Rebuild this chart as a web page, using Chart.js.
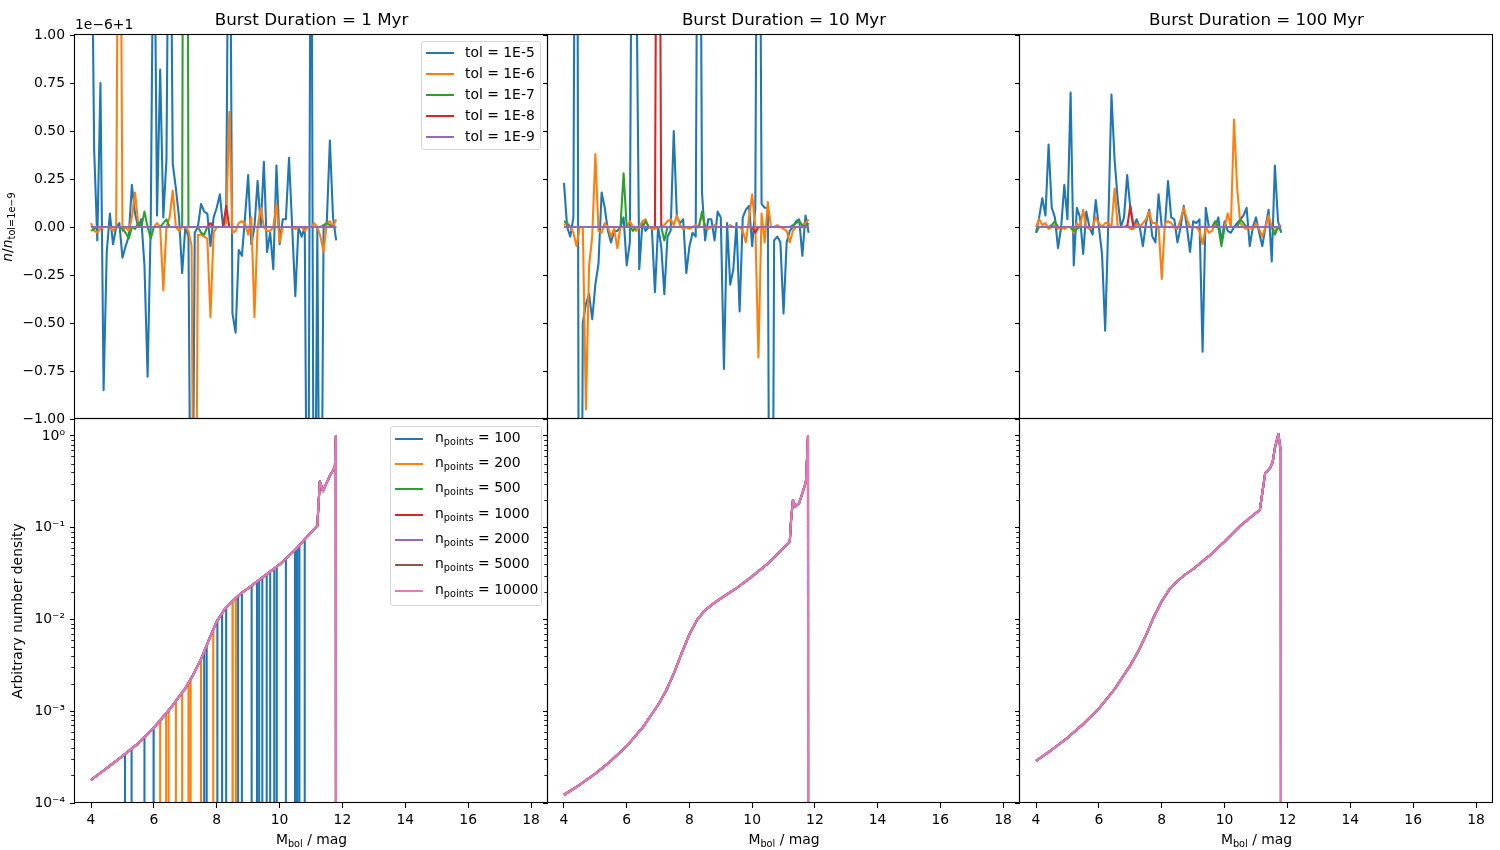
<!DOCTYPE html>
<html><head><meta charset="utf-8"><title>Burst duration convergence</title>
<script src="https://cdn.jsdelivr.net/npm/chart.js@4.4.1/dist/chart.umd.min.js"></script>
<style>
html,body{margin:0;padding:0;background:#fff}
body{width:1500px;height:850px;position:relative;overflow:hidden;font-family:"DejaVu Sans",sans-serif;color:#000}
canvas{position:absolute}
.t{position:absolute;white-space:nowrap;line-height:1}
.title{font-size:16.7px;transform:translateX(-50%)}
.lbl{font-size:13.9px}
.rot{transform:translate(-50%,-50%) rotate(-90deg)}
.ctr{transform:translateX(-50%)}
sub{font-size:70%;vertical-align:-0.3em;line-height:0}
.legend{position:absolute;background:rgba(255,255,255,0.8);border:1px solid #d4d4d4;border-radius:3px;box-sizing:border-box}
.legend .sw{position:absolute;left:4px;width:28px;height:2px}
.legend .tx{position:absolute;font-size:13.9px;line-height:1;white-space:nowrap}
</style></head><body>
<script>
// ---------------- data ----------------
const X_MBOL = [4.0,4.1,4.2,4.3,4.4,4.5,4.6,4.7,4.8,4.9,
 5.0,5.1,5.2,5.3,5.4,5.5,5.6,5.7,5.8,5.9,
 6.0,6.1,6.2,6.3,6.4,6.5,6.6,6.7,6.8,6.9,
 7.0,7.1,7.2,7.3,7.4,7.5,7.6,7.7,7.8,7.9,
 8.0,8.1,8.2,8.3,8.4,8.5,8.6,8.7,8.8,8.9,
 9.0,9.1,9.2,9.3,9.4,9.5,9.6,9.7,9.8,9.9,
 10.0,10.1,10.2,10.3,10.4,10.5,10.6,10.7,10.8,10.9,
 11.0,11.1,11.2,11.3,11.4,11.5,11.6,11.7,11.8];

const TOL_LABELS = ['tol = 1E-5','tol = 1E-6','tol = 1E-7','tol = 1E-8','tol = 1E-9'];
const TITLES = ['Burst Duration = 1 Myr','Burst Duration = 10 Myr','Burst Duration = 100 Myr'];
const N_POINTS = [100,200,500,1000,2000,5000,10000];

// (n/n_ref - 1) in units of 1e-6, burst 1 Myr
const B1_TOL5 = [2.0,0.4,-0.07,0.75,-0.85,-0.13,0.07,-0.09,0.0,0.02,
 -0.16,-0.1,-0.05,0.22,0.07,0.0,0.04,-0.2,-0.78,0.02,
 2.0,0.06,0.82,0.05,0.35,2.5,0.33,0.2,0.05,-0.24,
 0.0,-0.05,-2.5,-0.03,0.0,0.12,0.08,0.07,-0.1,0.05,
 0.1,0.17,0.0,0.05,2.5,-0.45,-0.55,-0.12,-0.15,0.05,
 0.27,-0.09,0.0,0.24,0.0,0.34,-0.13,-0.03,-0.22,0.32,
 -0.09,0.04,0.04,0.36,0.0,-0.36,0.0,-0.05,0.0,-2.5,
 2.5,-2.5,0.0,-2.5,0.0,0.02,0.45,0.05,-0.07];
const B1_TOL6 = [0.02,-0.02,-0.03,-0.01,0.0,0.0,0.0,-0.02,0.0,3.0,
 -0.02,0.0,-0.02,0.05,0.18,0.02,0.0,0.0,0.0,0.0,
 0.0,0.02,0.0,-0.33,0.0,0.05,0.19,0.0,-0.02,0.0,
 0.0,-0.02,-0.1,-3.0,-0.04,-0.04,-0.05,-0.06,-0.47,-0.03,
 0.0,0.0,0.0,0.02,0.6,-0.03,-0.02,0.02,0.03,0.02,
 -0.04,0.05,-0.47,0.0,0.1,0.0,-0.02,-0.02,0.0,0.12,
 -0.08,0.0,0.0,0.0,0.0,-0.01,0.0,0.0,-0.02,0.0,
 0.0,0.02,0.0,-0.05,-0.13,0.02,0.03,0.0,0.04];
const B1_TOL7 = [-0.02,-0.01,0,0,0,0,0,0,0,0,
 -0.01,-0.03,-0.06,0,-0.01,0.02,0,0.08,0,-0.06,
 0,0,0,0.02,0.04,0,0,0,0,0,
 7.0,0,0,0,0,-0.03,-0.04,0,0,0,
 0,0,0,0,0,0,0,0,0,0,
 0,0,0,0,0,0,0,0,0,0,
 0,0,0,0,0,0,0,0,0,0,
 0,0,0,0,0.01,0.02,0.01,0,0];
const B1_TOL8 = [0,0,0,0,0,0,0,0,0,0,
 0,0,0,0,0,0,0,0,0,0,
 0,0,0,0,0,0,0,0,0,0,
 0,0,0,0,0,0,0,0,0.02,0,
 0,0,0,0.11,0,0,0,0,0,0,
 0,0,0,0,0,0,0,0,0,0,
 0,0,0,0,0,0,0,0,0,0,
 0,0,0,0,0,0,0,0,0];

// burst 10 Myr
const B10_TOL5 = [0.23,0.0,-0.05,0.05,4.0,-4.0,-0.5,-0.4,-0.35,-0.48,
 -0.3,-0.19,0.18,0.1,-0.02,-0.08,-0.02,-0.02,0.0,0.05,
 -0.2,-0.08,3.0,1.5,-0.22,0.02,-0.02,0.0,0.0,-0.34,
 0.0,-0.1,-0.35,-0.05,-0.02,0.5,0.05,0.02,0.04,-0.24,
 -0.1,-0.03,-0.05,3.5,0.18,-0.07,0.04,0.04,-0.07,0.08,
 0.05,-0.74,0.02,-0.3,-0.22,0.02,-0.44,0.05,0.09,0.11,
 -0.1,0.1,3.5,0.12,0.1,0.1,-4.0,-0.07,-0.05,-0.08,
 -0.45,-0.08,-0.02,0.0,0.03,0.04,-0.15,0.06,-0.03];
const B10_TOL6 = [0.01,0.02,0.0,-0.03,-0.1,0.0,0.0,-0.95,-0.2,-0.05,
 0.38,-0.02,-0.03,0.02,0.0,-0.05,-0.01,-0.11,0.0,0.0,
 0.0,0.03,0.0,-0.02,0.0,0.03,0.04,0.0,-0.01,-0.01,
 0.0,0.0,0.01,0.03,0.04,0.01,0.06,0.01,-0.01,0.0,
 -0.01,0.0,0.01,0.0,0.07,0.0,-0.01,0.0,0.01,0.0,
 0.0,0.0,0.0,0.01,0.0,0.0,0.0,-0.02,-0.08,0.05,
 0.17,0.0,-0.68,0.07,-0.08,0.13,0.0,0.0,0.01,0.0,
 -0.01,-0.02,-0.08,-0.02,0.0,0.0,0.01,0.02,0.04];
const B10_TOL7 = [0.03,0.02,0,0,0,0,0,0,0,0,
 0,0,0,0,0,0,0,0,0,0.28,
 0,0,-0.02,0,0,0,0.03,0,0,0,
 0,0,-0.07,0,0,0,0,0,0,0,
 0,0,0,0,0.08,0,0,0,0,0,
 0,0,0,0,0,0,0,0,0,0,
 0,0,0,0,0,0,0,0,0,0,
 0,0,0,0.01,0.02,0.03,0.01,0,0.02];
const B10_TOL8 = [0,0,0,0,0,0,0,0,0,0,
 0,0,0,0,0,0,0,0,0,0,
 0,0,0,0,0,0,0,0,0,0,
 4.0,0,0,0,0,0,0,0,0,0,
 0,0,0,0,0,0,0,0,0,0,
 0,0,0,0,0,0,0,0,0,0,
 0,-0.03,0,0,0,0,0,0,0,0,
 0,0,0,0,0,0,0,0,0];

// burst 100 Myr
const B100_TOL5 = [-0.03,0.05,0.15,0.06,0.43,0.1,0.05,-0.11,0.0,0.22,
 0.04,0.70,-0.2,0.1,0.05,-0.14,0.08,0.0,-0.04,0.14,
 0.0,-0.14,-0.54,0.02,0.69,0.35,0.14,0.0,0.05,0.27,
 0.1,0.0,0.04,0.0,-0.1,0.02,0.09,-0.05,-0.08,0.17,
 0.0,0.0,0.24,0.05,0.04,-0.08,0.0,0.11,0.0,-0.13,
 0.03,0.02,0.04,-0.65,0.1,0.0,0.0,0.0,0.05,-0.08,
 0.03,-0.02,-0.03,0.0,0.02,0.04,0.06,0.1,-0.1,0.0,
 0.05,-0.03,-0.1,0.0,0.09,-0.18,0.32,0.03,-0.03];
const B100_TOL6 = [0.0,0.04,0.01,0.02,-0.01,0.0,0.01,-0.01,0.0,-0.01,
 0.0,0.0,-0.03,0.02,0.0,0.09,0.0,-0.01,0.0,0.05,
 0.02,0.0,0.02,0.02,0.0,0.2,0.0,0.0,0.0,0.01,
 -0.01,-0.01,0.02,0.0,0.02,0.04,0.08,0.02,0.02,0.0,
 -0.27,0.02,0.03,0.02,0.0,-0.01,0.04,0.1,0.04,0.0,
 0.0,0.0,-0.02,-0.09,0.0,-0.03,-0.02,0.02,0.0,0.0,
 0.0,0.07,0.0,0.56,0.2,0.02,0.0,-0.01,0.0,-0.01,
 0.02,-0.01,-0.05,0.0,0.06,0.0,-0.02,0.0,0.01];
const B100_TOL7 = [-0.03,0,0,0,0,0.01,0.03,0,0,0,
 0,0,-0.02,-0.01,0,0,0,0,0,0,
 0,0,0,0,0,0,0,0,0,0,
 0,0,0,0,0,0,0,0,0,0,
 0,0,0,0,0,0,0,0,0,0,
 0,0,0,0,0,0,0,0.03,0,-0.1,
 0,0,0,0,0,0.04,0.02,0,0,0,
 0,0,0,0,0,0,-0.04,0,-0.02];
const B100_TOL8 = [0,0,0,0,0,0,0,0,0,0,
 0,0,0,0,0,0,0,0,0,0,
 0,0,0,0,0,0,0,0,0,0,
 0.11,0,0,0,0,0,0,0,0,0,
 0,0,0,0,0,0,0,0,0,0,
 0,0,0,0,0,0,0,0,0,0,
 0,0,0,0,0,0,0,0,0,0,
 0,0,0,0,0,0,0,0,0];
// reference tolerance against itself: exactly zero offset
const REF_TOL9 = [0,0,0,0,0,0,0,0,0,0,
 0,0,0,0,0,0,0,0,0,0,
 0,0,0,0,0,0,0,0,0,0,
 0,0,0,0,0,0,0,0,0,0,
 0,0,0,0,0,0,0,0,0,0,
 0,0,0,0,0,0,0,0,0,0,
 0,0,0,0,0,0,0,0,0,0,
 0,0,0,0,0,0,0,0,0];

// luminosity functions (arbitrary number density); 0 = empty bin
const LF1_X = [4.0,4.5,5.0,5.5,6.0,6.5,7.0,7.25,7.5,7.75,8.0,8.25,8.5,8.75,9.0,9.5,10.0,10.5,11.0,11.2,11.28,11.38,11.5,11.6,11.7,11.76,11.79,11.8];
const LF1_Y = [1.78e-4,2.4e-4,3.24e-4,4.47e-4,6.6e-4,1.05e-3,1.78e-3,2.5e-3,3.7e-3,6.0e-3,9.5e-3,1.29e-2,1.58e-2,1.9e-2,2.19e-2,2.95e-2,3.98e-2,5.75e-2,8.9e-2,0.105,0.32,0.25,0.31,0.37,0.42,0.46,1.0,0];
const LF10_X = [4.0,4.5,5.0,5.5,6.0,6.5,7.0,7.25,7.5,7.75,8.0,8.25,8.5,8.75,9.0,9.5,10.0,10.5,11.0,11.2,11.24,11.3,11.38,11.5,11.67,11.72,11.78,11.79];
const LF10_Y = [1.23e-4,1.58e-4,2.09e-4,2.88e-4,4.17e-4,6.6e-4,1.17e-3,1.66e-3,2.57e-3,4.27e-3,6.9e-3,1.0e-2,1.26e-2,1.48e-2,1.7e-2,2.19e-2,2.95e-2,4.07e-2,6.0e-2,7.1e-2,0.12,0.2,0.17,0.186,0.28,0.33,1.0,0];
const LF100_X = [4.0,4.5,5.0,5.5,6.0,6.5,7.0,7.25,7.5,7.75,8.0,8.25,8.5,8.75,9.0,9.5,10.0,10.5,11.0,11.12,11.29,11.45,11.53,11.6,11.71,11.79,11.8];
const LF100_Y = [2.88e-4,3.8e-4,5.13e-4,7.24e-4,1.07e-3,1.74e-3,3.16e-3,4.47e-3,6.76e-3,1.07e-2,1.58e-2,2.14e-2,2.63e-2,3.09e-2,3.55e-2,4.9e-2,7.08e-2,0.105,0.145,0.155,0.39,0.45,0.52,0.74,1.05,0.68,0];
// empty bins of the coarse runs (burst 1 Myr): position and value of the neighbouring bin
const EMPTY100_X = [5.08,5.29,5.70,5.99,7.60,7.68,8.02,8.17,8.30,8.68,8.80,9.11,9.28,9.35,9.45,9.59,9.70,9.83,9.91,10.20,10.49,10.56,10.63,10.80];
const EMPTY100_TOP = [3.4e-4,3.9e-4,5.2e-4,6.6e-4,4.5e-3,5.25e-3,9.8e-3,1.17e-2,1.34e-2,1.81e-2,1.96e-2,2.34e-2,2.59e-2,2.7e-2,2.86e-2,3.11e-2,3.33e-2,3.6e-2,3.78e-2,4.61e-2,5.71e-2,6.07e-2,6.45e-2,7.48e-2];
const EMPTY200_X = [6.20,6.39,6.47,6.70,6.90,7.10,7.17,7.50,7.89,8.51,8.61];
const EMPTY200_TOP = [7.9e-4,9.46e-4,1.02e-3,1.3e-3,1.6e-3,2.04e-3,2.25e-3,3.7e-3,7.76e-3,1.6e-2,1.72e-2];

const X_TICKS = [4,6,8,10,12,14,16,18];
const TOP_Y_TICKS = [-1,-0.75,-0.5,-0.25,0,0.25,0.5,0.75,1];
const LOG_Y_TICKS = [1e-4,1e-3,1e-2,1e-1,1];

// ---------------- style / layout ----------------
const TOL_COLORS = ['#1f77b4','#ff7f0e','#2ca02c','#d62728','#9467bd'];
const N_COLORS = ['#1f77b4','#ff7f0e','#2ca02c','#d62728','#9467bd','#8c564b','#e377c2'];
const X_MIN = 3.49, X_MAX = 18.54;
const LOG_MAX = 1.53, LOG_FLOOR = 1e-12;
const COLS = [[75,548],[548,1020],[1020,1493]];
const ROWS = [[35,419],[419,803]];
const PAD = {l:80, r:10, t:30, b:45};

Chart.defaults.font.family = '"DejaVu Sans", sans-serif';
Chart.defaults.font.size = 13.9;
Chart.defaults.color = '#000';

const framePlugin = {
  id: 'frame',
  afterDatasetsDraw(chart, args, opts) {
    const {ctx, chartArea: a} = chart;
    ctx.save();
    ctx.strokeStyle = '#000';
    ctx.lineWidth = 1.1;
    ctx.strokeRect(Math.round(a.left) - 0.5, Math.round(a.top) - 0.5, Math.round(a.right - a.left), Math.round(a.bottom - a.top));
    if (opts && opts.minor) {
      const s = chart.scales.y;
      ctx.beginPath();
      for (let n = -4; n <= 0; n++) {
        for (let k = 2; k <= 9; k++) {
          const v = k * Math.pow(10, n);
          if (v > LOG_MAX) continue;
          const y = Math.round(s.getPixelForValue(v)) + 0.5;
          ctx.moveTo(a.left - 1, y);
          ctx.lineTo(a.left - 3.8, y);
        }
      }
      ctx.lineWidth = 0.85;
      ctx.stroke();
    }
    ctx.restore();
  }
};

const GRID = {display:true, drawOnChartArea:false, drawTicks:true, tickLength:5, tickColor:'#000', tickWidth:1.1};
const GRID_HIDDEN_TICKS = {display:true, drawOnChartArea:false, drawTicks:true, tickLength:5, tickColor:'rgba(0,0,0,0)', tickWidth:1.1};
const LINE = {borderWidth:2.08, pointRadius:0, fill:false, tension:0, clip:0, borderJoinStyle:'round', borderCapStyle:'butt'};

function xScale(show) {
  return {type:'linear', min:X_MIN, max:X_MAX,
    afterFit(s){ s.height = PAD.b; },
    afterBuildTicks(s){ s.ticks = X_TICKS.map(v => ({value:v})); },
    ticks:{display:show, autoSkip:false, maxRotation:0, padding:4, callback:v => String(v)},
    grid:show ? GRID : GRID_HIDDEN_TICKS, border:{display:false}};
}
function tolY(show) {
  return {type:'linear', min:-1, max:1,
    afterFit(s){ s.width = PAD.l; },
    afterBuildTicks(s){ s.ticks = TOP_Y_TICKS.map(v => ({value:v})); },
    ticks:{display:show, padding:5, callback:v => (v < 0 ? '\u2212' : '') + Math.abs(v).toFixed(2)},
    grid:GRID, border:{display:false}};
}
const SUP = {'-':'\u207B','0':'\u2070','1':'\u00B9','2':'\u00B2','3':'\u00B3','4':'\u2074'};
function logY(show) {
  return {type:'logarithmic', min:1e-4, max:LOG_MAX,
    afterFit(s){ s.width = PAD.l; },
    afterBuildTicks(s){ s.ticks = LOG_Y_TICKS.map(v => ({value:v})); },
    ticks:{display:show, padding:5, callback:v => '10' + String(Math.round(Math.log10(v))).split('').map(ch => SUP[ch]).join('')},
    grid:GRID, border:{display:false}};
}

function makeCanvas(c, r) {
  const [x0, x1] = COLS[c], [y0, y1] = ROWS[r];
  const cv = document.createElement('canvas');
  const w = x1 - x0 + PAD.l + PAD.r, h = y1 - y0 + PAD.t + PAD.b;
  cv.width = w; cv.height = h;
  cv.style.left = (x0 - PAD.l) + 'px'; cv.style.top = (y0 - PAD.t) + 'px';
  cv.style.width = w + 'px'; cv.style.height = h + 'px';
  document.body.appendChild(cv);
  return cv;
}

function buildPanel(c, r, datasets, isLog, showY, showX) {
  const cv = makeCanvas(c, r);
  new Chart(cv.getContext('2d'), {
    type:'line',
    data:{datasets},
    options:{
      responsive:false, maintainAspectRatio:false, animation:false, devicePixelRatio:1, events:[],
      layout:{padding:{left:0, top:PAD.t, right:PAD.r, bottom:0}},
      plugins:{legend:{display:false}, tooltip:{enabled:false}, title:{display:false}, frame:{minor:isLog}},
      scales:{x:xScale(showX), y:isLog ? logY(showY) : tolY(showY)}
    },
    plugins:[framePlugin]
  });
}

function tolDatasets(series) {
  return series.map((vals, i) => Object.assign({
    label:TOL_LABELS[i],
    data:X_MBOL.map((x, j) => ({x, y:vals[j]})),
    borderColor:TOL_COLORS[i], order:series.length - i}, LINE));
}
function positive(y) { return y > 0 ? y : LOG_FLOOR; }
function curvePts(xs, ys) { return xs.map((x, i) => ({x, y:positive(ys[i])})); }
function curveWithEmpty(xs, ys, ex, etop) {
  const pts = xs.map((x, i) => ({x, y:ys[i], k:0}));
  ex.forEach((x, i) => { pts.push({x, y:etop[i], k:1}, {x, y:0, k:2}, {x, y:etop[i], k:3}); });
  pts.sort((a, b) => a.x - b.x || a.k - b.k);
  return pts.map(p => ({x:p.x, y:positive(p.y)}));
}
function lfDatasets(dataList) {
  return dataList.map((d, i) => Object.assign({
    label:'n_points = ' + N_POINTS[i], data:d, borderColor:N_COLORS[i], order:dataList.length - i}, LINE));
}

// top row
buildPanel(0, 0, tolDatasets([B1_TOL5, B1_TOL6, B1_TOL7, B1_TOL8, REF_TOL9]), false, true, false);
buildPanel(1, 0, tolDatasets([B10_TOL5, B10_TOL6, B10_TOL7, B10_TOL8, REF_TOL9]), false, false, false);
buildPanel(2, 0, tolDatasets([B100_TOL5, B100_TOL6, B100_TOL7, B100_TOL8, REF_TOL9]), false, false, false);
// bottom row
const lf1 = curvePts(LF1_X, LF1_Y);
buildPanel(0, 1, lfDatasets([curveWithEmpty(LF1_X, LF1_Y, EMPTY100_X, EMPTY100_TOP), curveWithEmpty(LF1_X, LF1_Y, EMPTY200_X, EMPTY200_TOP), lf1, lf1, lf1, lf1, lf1]), true, true, true);
const lf10 = curvePts(LF10_X, LF10_Y);
buildPanel(1, 1, lfDatasets([lf10, lf10, lf10, lf10, lf10, lf10, lf10]), true, false, true);
const lf100 = curvePts(LF100_X, LF100_Y);
buildPanel(2, 1, lfDatasets([lf100, lf100, lf100, lf100, lf100, lf100, lf100]), true, false, true);

// ---------------- text ----------------
function addText(html, cls, left, top) {
  const d = document.createElement('div');
  d.className = 't ' + cls;
  d.style.left = left + 'px'; d.style.top = top + 'px';
  d.innerHTML = html;
  document.body.appendChild(d);
  return d;
}
TITLES.forEach((t, i) => addText(t, 'title', (COLS[i][0] + COLS[i][1]) / 2, 11));
addText('1e\u22126+1', 'lbl', 75, 18);
addText('<i>n</i>/<i>n</i><sub>tol=1e\u22129</sub>', 'lbl rot', 8, 227);
addText('Arbitrary number density', 'lbl rot', 18, 611);
COLS.forEach(c => addText('M<sub>bol</sub> / mag', 'lbl ctr', (c[0] + c[1]) / 2, 833));

function addLegend(left, top, w, h, rows, labels, colors, textLeft, textDy) {
  const box = document.createElement('div');
  box.className = 'legend';
  Object.assign(box.style, {left:left + 'px', top:top + 'px', width:w + 'px', height:h + 'px'});
  labels.forEach((lab, i) => {
    const sw = document.createElement('div');
    sw.className = 'sw';
    sw.style.top = (rows[i] - 1) + 'px';
    sw.style.background = colors[i];
    box.appendChild(sw);
    const tx = document.createElement('div');
    tx.className = 'tx';
    tx.style.left = textLeft + 'px';
    tx.style.top = (rows[i] + textDy) + 'px';
    tx.innerHTML = lab;
    box.appendChild(tx);
  });
  document.body.appendChild(box);
}
addLegend(421, 41, 120, 109, [11, 32, 53, 74, 95], TOL_LABELS, TOL_COLORS, 43, -7);
addLegend(390, 426, 152, 180, [12, 37, 62, 88, 113, 138, 164], N_POINTS.map(n => 'n<sub>points</sub> = ' + n), N_COLORS, 44, -8);
</script>
</body></html>
